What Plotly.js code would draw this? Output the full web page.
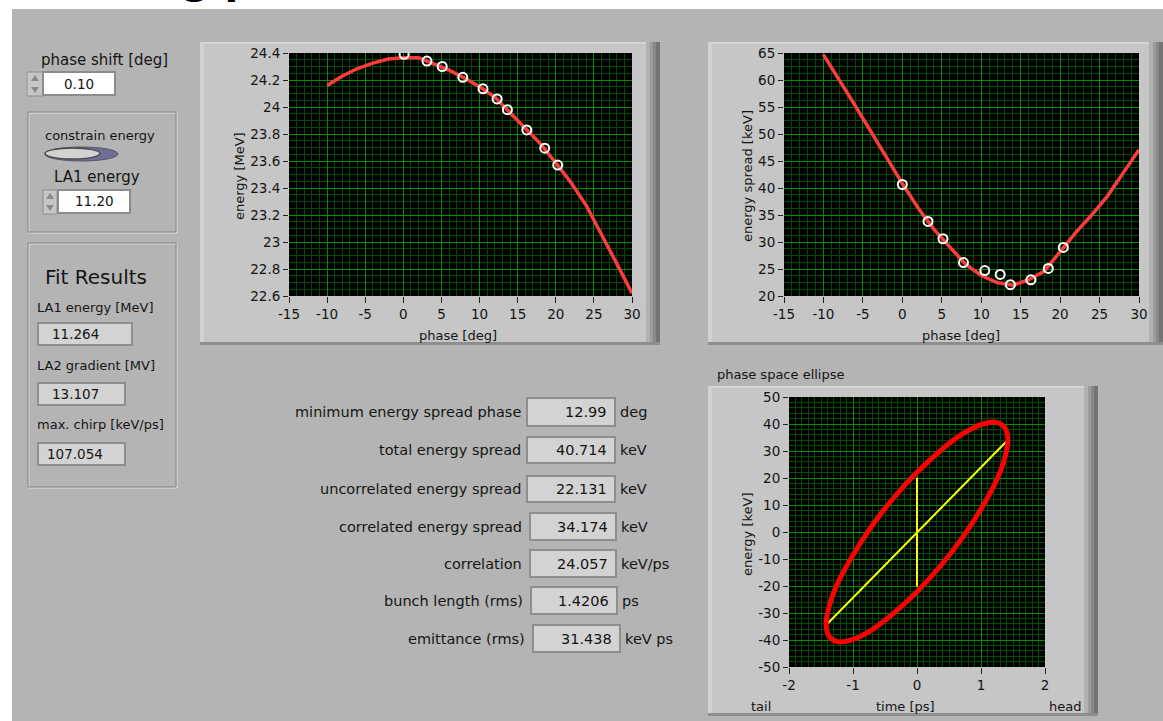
<!DOCTYPE html>
<html>
<head>
<meta charset="utf-8">
<script src="https://cdn.plot.ly/plotly-3.0.1.min.js"></script>
<style>
html,body{margin:0;padding:0;background:#b4b4b4;}
#chart{width:1163px;height:721px;}
</style>
</head>
<body>
<div id="chart"></div>
<script>
// ---------------- data ----------------
// energy vs phase (fit curve)
const fitPhase1 = [-10,-8,-6,-4,-2,0,2,4,6,8,10,12,14,16,18,20,22,24,26,28,30];
const fitEnergy = [24.16,24.23,24.285,24.325,24.355,24.365,24.365,24.32,24.273,24.215,24.15,24.073,23.96,23.845,23.727,23.586,23.44,23.27,23.06,22.84,22.62];
// energy vs phase (measured)
const measPhase1 = [0.1,3.1,5.1,7.8,10.45,12.3,13.65,16.2,18.55,20.25];
const measEnergy = [24.39,24.34,24.30,24.22,24.135,24.06,23.98,23.83,23.695,23.57];
// energy spread vs phase (fit curve)
const fitPhase2 = [-10,-8,-6,-4,-2,0,2,4,6,8,10,12,14,16,18,20,22,24,26,28,30];
const fitSpread = [64.7,60.1,55.3,50.5,45.6,40.8,36.3,32.4,29.1,25.9,23.8,22.5,22.0,23.0,24.6,28.1,31.8,35.0,38.5,42.8,47.1];
// energy spread vs phase (measured)
const measPhase2 = [0.0,3.25,5.15,7.75,10.45,12.4,13.7,16.3,18.5,20.4];
const measSpread = [40.65,33.8,30.6,26.2,24.7,24.0,22.1,23.0,25.1,29.0];
// phase space ellipse outline
const ellipseTime   = [1.42,1.37,1.23,1.00,0.71,0.37,0.00,-0.37,-0.71,-1.00,-1.23,-1.37,-1.42,-1.37,-1.23,-1.00,-0.71,-0.37,0.00,0.37,0.71,1.00,1.23,1.37,1.42];
const ellipseEnergy = [34.2,38.7,40.7,39.8,36.3,30.2,22.1,12.5,2.1,-8.5,-18.5,-27.3,-34.2,-38.7,-40.7,-39.8,-36.3,-30.2,-22.1,-12.5,-2.1,8.5,18.5,27.3,34.2];
// correlation line and uncorrelated spread line
const corrTime = [-1.40, 1.40];
const corrEnergy = [-34.0, 33.6];
const uncorrTime = [0, 0];
const uncorrEnergy = [-20.2, 20.1];
// tick labels
const phaseTicks = [-15,-10,-5,0,5,10,15,20,25,30];
const phaseTickText = ["-15","-10","-5","0","5","10","15","20","25","30"];
const energyTicks = [22.6,22.8,23,23.2,23.4,23.6,23.8,24,24.2,24.4];
const energyTickText = ["22.6","22.8","23","23.2","23.4","23.6","23.8","24","24.2","24.4"];
const spreadTicks = [20,25,30,35,40,45,50,55,60,65];
const spreadTickText = ["20","25","30","35","40","45","50","55","60","65"];
const timeTicks = [-2,-1,0,1,2];
const timeTickText = ["-2","-1","0","1","2"];
const ellTicks = [-50,-40,-30,-20,-10,0,10,20,30,40,50];
const ellTickText = ["-50","-40","-30","-20","-10","0","10","20","30","40","50"];
// panel texts
const controlLabels = ["phase shift [deg]","constrain energy","LA1 energy"];
const controlValues = ["0.10","11.20"];
const fitLabels = ["LA1 energy [MeV]","LA2 gradient [MV]","max. chirp [keV/ps]"];
const fitValues = ["11.264","13.107","107.054"];
const resultLabels = ["minimum energy spread phase","total energy spread","uncorrelated energy spread","correlated energy spread","correlation","bunch length (rms)","emittance (rms)"];
const resultValues = ["12.99","40.714","22.131","34.174","24.057","1.4206","31.438"];
const resultUnits = ["deg","keV","keV","keV","keV/ps","ps","keV ps"];

// ---------------- layout helpers (pixel -> paper) ----------------
const W = 1163, H = 721;
const X = p => p / W;
const Y = p => 1 - p / H;
const FONT = "DejaVu Sans";
const TXT = "#141414";

const shapes = [];
function rect(x0, y0, x1, y1, fill, line, lw) {
  shapes.push({type:'rect', xref:'paper', yref:'paper', layer:'below',
    x0:X(x0), x1:X(x1), y0:Y(y1), y1:Y(y0),
    fillcolor:fill, line:{color:line || 'rgba(0,0,0,0)', width:lw || 0}});
}
function ell(x0, y0, x1, y1, fill, line, lw) {
  shapes.push({type:'circle', xref:'paper', yref:'paper', layer:'below',
    x0:X(x0), x1:X(x1), y0:Y(y1), y1:Y(y0),
    fillcolor:fill, line:{color:line || 'rgba(0,0,0,0)', width:lw || 0}});
}
function poly(pts, fill) {
  const d = pts.map((p, i) => (i ? 'L' : 'M') + X(p[0]).toFixed(5) + ',' + Y(p[1]).toFixed(5)).join(' ') + ' Z';
  shapes.push({type:'path', xref:'paper', yref:'paper', layer:'below', path:d,
    fillcolor:fill, line:{color:'rgba(0,0,0,0)', width:0}});
}
const annotations = [];
function txt(text, x, y, size, xanchor, extra) {
  annotations.push(Object.assign({text:text, x:X(x), y:Y(y), xref:'paper', yref:'paper',
    xanchor:xanchor || 'center', yanchor:'middle', showarrow:false,
    borderpad:0, borderwidth:0,
    font:{family:FONT, size:size, color:TXT}}, extra || {}));
}

// white strips of the screenshot
rect(0, 0, W, 9, '#ffffff');
rect(0, 0, 12, H, '#ffffff');

// chart panel frames
function panel(x0, y0, x1, y1) {
  rect(x0, y0, x1, y1, '#c6c6c6');
  rect(x0, y0, x1, y0 + 2, '#d6d6d6');
  rect(x0, y0, x0 + 4, y1, '#d2d2d2');
  rect(x1 - 14, y0, x1 - 10, y1, '#b2b2b2');
  rect(x1 - 10, y0, x1 - 7, y1, '#9c9c9c');
  rect(x1 - 7, y0, x1 - 4, y1, '#888888');
  rect(x1 - 4, y0, x1, y1, '#747474');
  rect(x0, y1 - 3, x1, y1, '#8e8e8e');
}
panel(200, 42, 660, 345);
panel(708, 42, 1163, 345);
panel(708, 386, 1098, 716);

// plot areas (black)
const P1 = [289, 53, 632, 296];
const P2 = [784, 53, 1139, 296];
const P3 = [789, 397, 1045, 667];
rect(P1[0], P1[1], P1[2], P1[3], '#000000');
rect(P2[0], P2[1], P2[2], P2[3], '#000000');
rect(P3[0], P3[1], P3[2], P3[3], '#000000');

// group boxes
function groupBox(x0, y0, x1, y1) {
  rect(x0 + 1, y0 + 1, x1 + 1, y1 + 1, 'rgba(0,0,0,0)', '#e2e2e2', 1);
  rect(x0, y0, x1, y1, 'rgba(0,0,0,0)', '#858585', 1);
}
groupBox(28, 112, 176, 232);
groupBox(28, 243, 176, 487);

// spinners
function spinner(x0, y0, x1, y1) {
  rect(x0, y0, x1, y1, '#c6c6c6', '#8e8e8e', 1);
  const cx = (x0 + x1) / 2, cy = (y0 + y1) / 2;
  poly([[cx, y0 + 3], [cx - 4, cy - 3], [cx + 4, cy - 3]], '#8a8a8a');
  poly([[cx - 4, cy + 3], [cx + 4, cy + 3], [cx, y1 - 3]], '#8a8a8a');
}
spinner(27, 72, 43, 96);
spinner(43, 190, 57, 214);

// numeric controls (white) and indicators (gray)
rect(43, 72, 115, 95, '#ffffff', '#8c8c8c', 2);
rect(58, 190, 130, 213, '#ffffff', '#8c8c8c', 2);
const fitBoxes = [[38, 323, 132, 345], [38, 383, 125, 405], [38, 443, 125, 465]];
fitBoxes.forEach(b => rect(b[0], b[1], b[2], b[3], '#d3d3d3', '#8e8e8e', 2));
const resBoxes = [[527,398,615,426],[527,437,615,463],[527,476,615,502],[530,513,616,540],[530,550,616,577],[531,587,617,614],[533,625,620,652]];
resBoxes.forEach(b => rect(b[0], b[1], b[2], b[3], '#d3d3d3', '#8e8e8e', 2));

// toggle switch
ell(45, 147, 118, 161, '#6e6e96', '#555566', 1);
ell(45, 148, 100, 159, '#d2d2d2', '#4a4a4a', 1.5);

// ---------------- texts ----------------
txt("Bunching phase", 0, 0, 40, 'left', {yanchor:'bottom', y:Y(1.8), font:{family:FONT, size:40, color:'#000', weight:'bold'}});

txt(controlLabels[0], 104, 60, 15);
txt(controlValues[0], 79, 84, 13.5);
txt(controlLabels[1], 100, 135, 13);
txt(controlLabels[2], 97, 177, 15);
txt(controlValues[1], 94, 201, 13.5);
txt("Fit Results", 96, 277, 20);
const fitLabelY = [307, 365, 425];
const fitValueX = [52, 52, 47];
fitLabels.forEach((t, i) => txt(t, 37, fitLabelY[i], 13, 'left'));
fitValues.forEach((t, i) => txt(t, fitValueX[i], (fitBoxes[i][1] + fitBoxes[i][3]) / 2, 13.5, 'left'));

const labelRight = [521, 521, 521, 522, 522, 523, 525];
resultLabels.forEach((t, i) => {
  const b = resBoxes[i], cy = (b[1] + b[3]) / 2;
  txt(t, labelRight[i], cy, 14.5, 'right');
  txt(resultValues[i], b[2] - 8, cy, 14.5, 'right');
  txt(resultUnits[i], b[2] + 5, cy, 14.5, 'left');
});

// axis titles and labels
txt("energy [MeV]", 239, 176, 13, 'center', {textangle:-90});
txt("phase [deg]", 458, 335, 13);
txt("energy spread [keV]", 747, 176, 13, 'center', {textangle:-90});
txt("phase [deg]", 961, 335, 13);
txt("phase space ellipse", 717, 374, 13, 'left');
txt("energy [keV]", 747, 534, 13, 'center', {textangle:-90});
txt("time [ps]", 905, 706, 13);
txt("tail", 761, 706, 13);
txt("head", 1065, 706, 13);

// ---------------- axes ----------------
const MAJ = '#009000', MIN = '#004c00';
function axis(domainPx, isX, range, vals, text, minorDtick, anchor) {
  const dom = isX ? [X(domainPx[0]), X(domainPx[1])] : [Y(domainPx[1]), Y(domainPx[0])];
  return {
    domain: dom, range: range, anchor: anchor, fixedrange: true,
    tickmode: 'array', tickvals: vals, ticktext: text,
    ticks: 'outside', ticklen: isX ? 6 : 5, tickwidth: 1, tickcolor: '#222',
    tickfont: {family: FONT, size: 13.5, color: TXT},
    showgrid: true, gridcolor: MAJ, gridwidth: 1,
    zeroline: false, showline: false,
    minor: {dtick: minorDtick, tick0: range[0], showgrid: true, gridcolor: MIN, gridwidth: 1, ticks: ''}
  };
}

const layout = {
  width: W, height: H,
  margin: {l: 0, r: 0, t: 0, b: 0},
  paper_bgcolor: '#b4b4b4',
  plot_bgcolor: '#000000',
  showlegend: false,
  xaxis:  axis([P1[0], P1[2]], true,  [-15, 30], phaseTicks, phaseTickText, 1, 'y'),
  yaxis:  axis([P1[1], P1[3]], false, [22.6, 24.4], energyTicks, energyTickText, 0.05, 'x'),
  xaxis2: axis([P2[0], P2[2]], true,  [-15, 30], phaseTicks, phaseTickText, 1, 'y2'),
  yaxis2: axis([P2[1], P2[3]], false, [20, 65], spreadTicks, spreadTickText, 1.25, 'x2'),
  xaxis3: axis([P3[0], P3[2]], true,  [-2, 2], timeTicks, timeTickText, 0.1, 'y3'),
  yaxis3: axis([P3[1], P3[3]], false, [-50, 50], ellTicks, ellTickText, 2, 'x3'),
  shapes: shapes,
  annotations: annotations
};

const traces = [
  {x: fitPhase1, y: fitEnergy, xaxis: 'x', yaxis: 'y', mode: 'lines',
   line: {color: '#ff3c3c', width: 3.5}},
  {x: measPhase1, y: measEnergy, xaxis: 'x', yaxis: 'y', mode: 'markers',
   marker: {symbol: 'circle-open', size: 9, color: '#ffffff', line: {width: 2, color: '#ffffff'}}},
  {x: fitPhase2, y: fitSpread, xaxis: 'x2', yaxis: 'y2', mode: 'lines',
   line: {color: '#ff3c3c', width: 3.5}},
  {x: measPhase2, y: measSpread, xaxis: 'x2', yaxis: 'y2', mode: 'markers',
   marker: {symbol: 'circle-open', size: 9, color: '#ffffff', line: {width: 2, color: '#ffffff'}}},
  {x: corrTime, y: corrEnergy, xaxis: 'x3', yaxis: 'y3', mode: 'lines',
   line: {color: '#ffff00', width: 2}},
  {x: uncorrTime, y: uncorrEnergy, xaxis: 'x3', yaxis: 'y3', mode: 'lines',
   line: {color: '#ffff00', width: 2}},
  {x: ellipseTime, y: ellipseEnergy, xaxis: 'x3', yaxis: 'y3', mode: 'lines',
   line: {color: '#ff0000', width: 5, shape: 'spline', smoothing: 1}}
];

Plotly.newPlot('chart', traces, layout, {staticPlot: true, displayModeBar: false});
</script>
</body>
</html>
